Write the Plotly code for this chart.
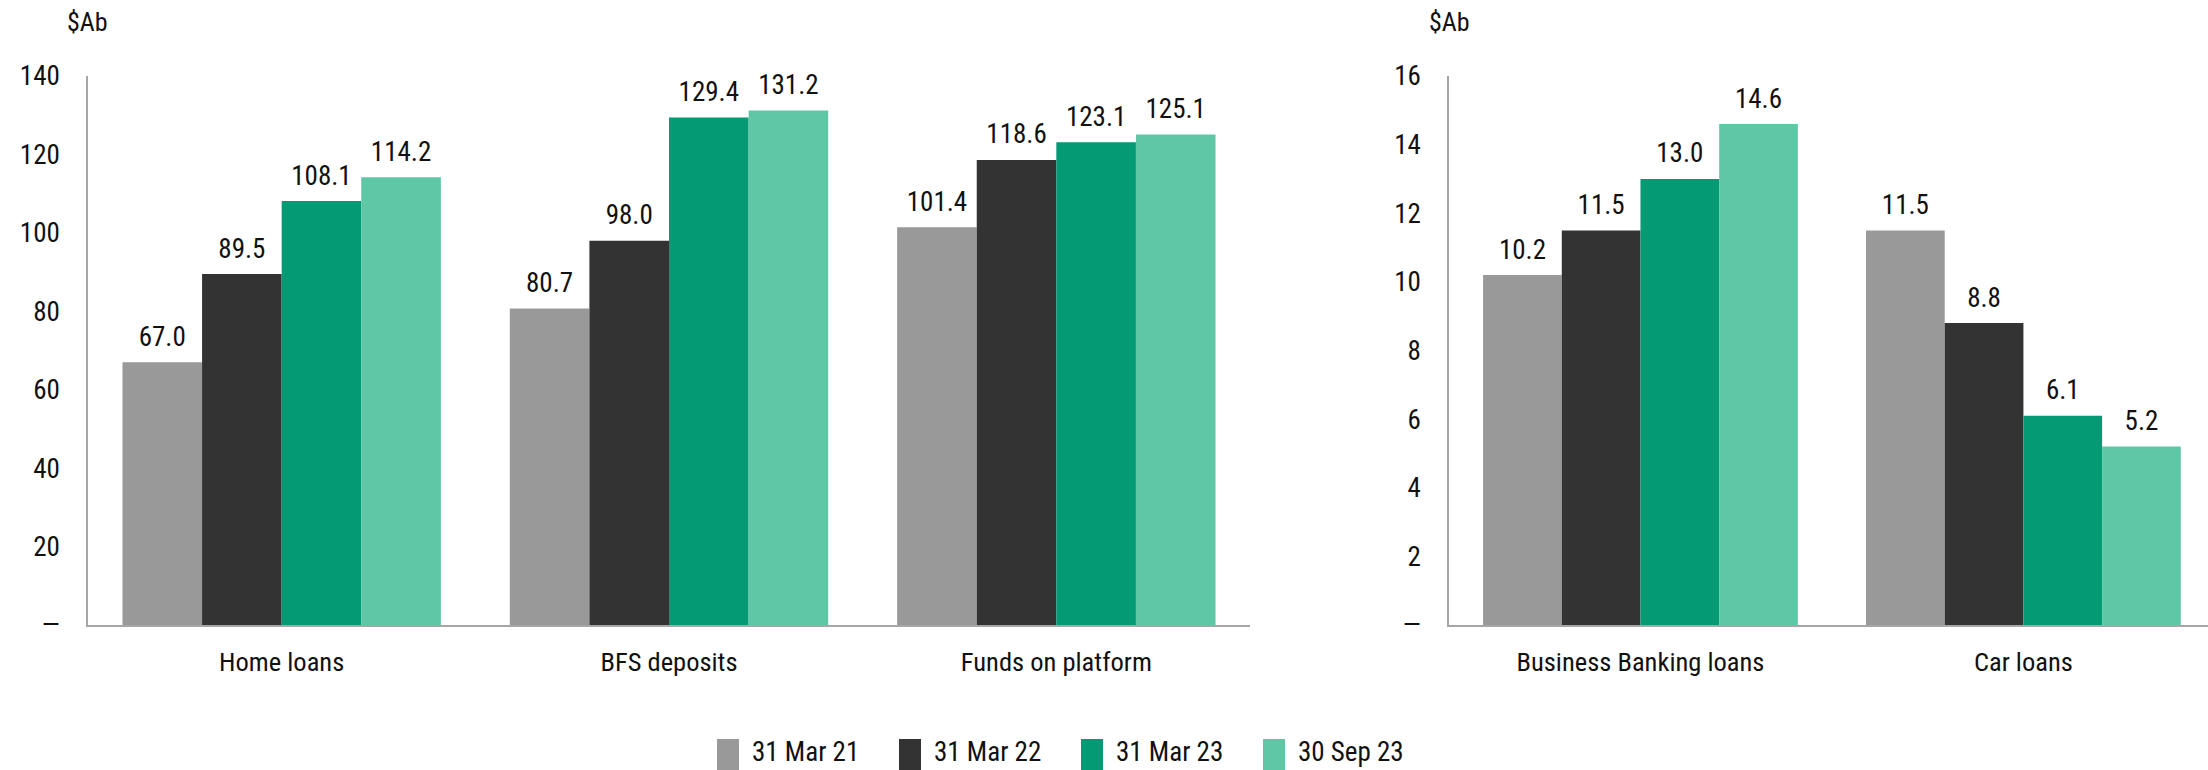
import plotly.graph_objects as go

# ---- data -------------------------------------------------------------
left_categories = ["Home loans", "BFS deposits", "Funds on platform"]
right_categories = ["Business Banking loans", "Car loans"]

series_names = ["31 Mar 21", "31 Mar 22", "31 Mar 23", "30 Sep 23"]
series_colors = ["#999999", "#333333", "#039A74", "#5FC6A6"]

left_mar21 = [67.0, 80.7, 101.4]
left_mar22 = [89.5, 98.0, 118.6]
left_mar23 = [108.1, 129.4, 123.1]
left_sep23 = [114.2, 131.2, 125.1]

right_mar21 = [10.2, 11.5]
right_mar22 = [11.5, 8.8]
right_mar23 = [13.0, 6.1]
right_sep23 = [14.6, 5.2]

left_tickvals = [0, 20, 40, 60, 80, 100, 120, 140]
left_ticktext = ["—", "20", "40", "60", "80", "100", "120", "140"]
right_tickvals = [0, 2, 4, 6, 8, 10, 12, 14, 16]
right_ticktext = ["—", "2", "4", "6", "8", "10", "12", "14", "16"]

unit_label = "$Ab"

# ---- style ------------------------------------------------------------
FONT = "Liberation Sans Narrow, Roboto Condensed, Roboto, sans-serif"
TEXT = "#111111"
AXIS = "#a6a6a6"
W, H = 2208, 770
GAP = 0.178

left_series = [left_mar21, left_mar22, left_mar23, left_sep23]
right_series = [right_mar21, right_mar22, right_mar23, right_sep23]

fig = go.Figure()


def add_panel(categories, series, xa, ya):
    for name, color, vals in zip(series_names, series_colors, series):
        fig.add_trace(go.Bar(
            x=categories, y=vals, name=name, marker_color=color,
            marker_line_width=0, xaxis=xa, yaxis=ya, showlegend=False,
            offsetgroup=name, hoverinfo="skip",
        ))
    # value labels sit above each bar, grouped the same way as the bars
    for name, vals in zip(series_names, series):
        fig.add_trace(go.Scatter(
            x=categories, y=vals, mode="markers+text",
            text=[f"{v:.1f}" for v in vals], textposition="top center",
            textfont=dict(family=FONT, size=27, color=TEXT),
            marker=dict(size=14, color="rgba(0,0,0,0)"),
            xaxis=xa, yaxis=ya, showlegend=False, hoverinfo="skip",
            offsetgroup=name, cliponaxis=False,
        ))


add_panel(left_categories, left_series, "x", "y")
add_panel(right_categories, right_series, "x2", "y2")

y_dom = [(H - 625) / H, (H - 76) / H]

common_x = dict(showline=True, linecolor=AXIS, linewidth=2, ticks="",
                showgrid=False, zeroline=False, automargin=False,
                tickfont=dict(family=FONT, size=26.5, color=TEXT),
                ticklabelstandoff=12, fixedrange=True)
common_y = dict(showline=True, linecolor=AXIS, linewidth=1.5, ticks="",
                showgrid=False, zeroline=False, automargin=False,
                tickfont=dict(family=FONT, size=27, color=TEXT),
                ticklabelstandoff=21, fixedrange=True)

fig.update_layout(
    template="none",
    width=W, height=H,
    margin=dict(l=0, r=0, t=0, b=0, pad=0, autoexpand=False),
    paper_bgcolor="white", plot_bgcolor="white",
    barmode="group", bargap=GAP, bargroupgap=0,
    scattermode="group", scattergap=GAP,
    showlegend=False,
    font=dict(family=FONT, color=TEXT, size=26),
    xaxis=dict(domain=[88 / W, 1250 / W], anchor="y", **common_x),
    yaxis=dict(domain=y_dom, anchor="x", range=[0, 140],
               tickvals=left_tickvals, ticktext=left_ticktext, **common_y),
    xaxis2=dict(domain=[1449 / W, 1.0], anchor="y2", range=[-0.5, 1.482],
                **common_x),
    yaxis2=dict(domain=y_dom, anchor="x2", range=[0, 16],
                tickvals=right_tickvals, ticktext=right_ticktext, **common_y),
)

# unit labels above each value axis
for x_px in (65, 1427):
    fig.add_annotation(x=x_px / W, y=(H - 22) / H, xref="paper", yref="paper",
                       text=unit_label, showarrow=False, xanchor="left",
                       yanchor="middle",
                       font=dict(family=FONT, size=26, color=TEXT))

# legend row along the bottom
LEG_X0, LEG_STEP, SW_W = 717, 182, 22
for i, (name, color) in enumerate(zip(series_names, series_colors)):
    x0 = LEG_X0 + i * LEG_STEP
    fig.add_shape(type="rect", xref="paper", yref="paper",
                  x0=x0 / W, x1=(x0 + SW_W) / W, y0=0, y1=31 / H,
                  fillcolor=color, line_width=0)
    fig.add_annotation(x=(x0 + SW_W + 11) / W, y=(H - 752) / H,
                       xref="paper", yref="paper", text=name,
                       showarrow=False, xanchor="left", yanchor="middle",
                       font=dict(family=FONT, size=27, color=TEXT))

fig.write_html("out.html")
